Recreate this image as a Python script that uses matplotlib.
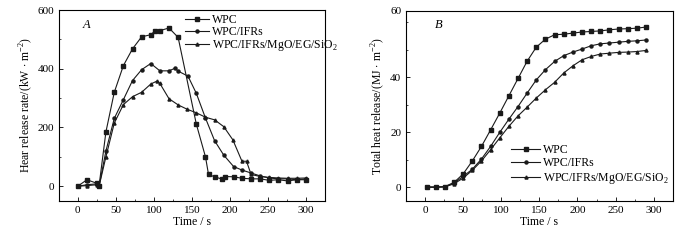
import numpy as np
import matplotlib
matplotlib.use('Agg')
import matplotlib.pyplot as plt
from matplotlib.ticker import MultipleLocator

plt.rcParams['font.family'] = ['Liberation Serif', 'DejaVu Serif']
plt.rcParams['mathtext.fontset'] = 'custom'
plt.rcParams['mathtext.rm'] = 'Liberation Serif'

# ---------------------------------------------------------------------------
# Data
# ---------------------------------------------------------------------------
labels = ['WPC', 'WPC/IFRs', r'WPC/IFRs/MgO/EG/SiO$_2$']
markers = ['s', 'o', '^']

# A: heat release rate, kW/m2
hrr_t_wpc = [0, 12, 25, 28, 37, 48, 60, 72, 84, 96, 102, 108, 120, 132, 156, 168,
             172, 180, 190, 194, 205, 216, 228, 240, 252, 264, 276, 288, 300]
hrr_wpc = [0, 22, 10, 2, 185, 320, 411, 468, 509, 516, 530, 530, 539, 507, 211, 100,
           40, 32, 24, 33, 32, 27, 25, 25, 20, 22, 18, 22, 22]

hrr_t_ifr = [0, 12, 25, 28, 37, 48, 60, 72, 84, 96, 108, 120, 128, 132, 145, 156,
             168, 180, 192, 205, 216, 228, 240, 252, 264, 276, 288, 300]
hrr_ifr = [0, 5, 8, 0, 120, 231, 295, 360, 397, 418, 393, 393, 402, 392, 375, 316,
           232, 155, 106, 67, 55, 45, 35, 28, 25, 25, 22, 25]

hrr_t_mix = [0, 12, 25, 28, 37, 48, 60, 72, 84, 96, 104, 108, 120, 132, 144, 156,
             168, 180, 192, 204, 216, 222, 228, 240, 252, 264, 276, 288, 300]
hrr_mix = [0, 2, 5, 0, 100, 215, 278, 305, 320, 348, 358, 350, 298, 277, 262, 250,
           235, 226, 203, 158, 85, 85, 40, 33, 30, 28, 27, 27, 28]

# B: total heat release, MJ/m2
thr_t = [2, 14, 26, 38, 50, 62, 74, 86, 98, 110, 122, 134, 146, 158, 170, 182,
         194, 206, 218, 230, 242, 254, 266, 278, 290]
thr_wpc = [0, 0, 0.2, 1.7, 4.8, 9.5, 14.8, 20.8, 26.9, 33.2, 39.5, 45.8, 50.9,
           53.8, 55.4, 55.6, 56.0, 56.4, 56.6, 56.8, 57.2, 57.5, 57.6, 57.8, 58.2]
thr_ifr = [0, 0, 0.1, 1.5, 3.9, 6.5, 10.2, 14.8, 19.9, 24.7, 29.3, 34.2, 39.0,
           42.7, 45.7, 47.8, 49.1, 50.2, 51.4, 52.1, 52.4, 52.7, 53.0, 53.2, 53.5]
thr_mix = [0, 0, 0.1, 1.2, 3.3, 6.1, 9.5, 13.6, 17.9, 22.1, 25.9, 29.1, 32.4,
           35.4, 38.1, 41.5, 44.1, 46.3, 47.5, 48.4, 48.7, 49.0, 49.1, 49.3, 49.7]

# ---------------------------------------------------------------------------
fig = plt.figure(figsize=(7.0, 2.4), dpi=100)
axA = fig.add_axes([0.084, 0.163, 0.380, 0.795])
axB = fig.add_axes([0.580, 0.163, 0.381, 0.793])

LC = '#1a1a1a'
kw = dict(color=LC, lw=0.8, ms=2.2, mfc=LC, mec=LC)

for t, y, m, lab in zip([hrr_t_wpc, hrr_t_ifr, hrr_t_mix],
                        [hrr_wpc, hrr_ifr, hrr_mix], markers, labels):
    axA.plot(t, y, marker=m, label=lab, **kw)

for y, m, lab in zip([thr_wpc, thr_ifr, thr_mix], markers, labels):
    axB.plot(thr_t, y, marker=m, label=lab, **kw)

for ax in (axA, axB):
    ax.set_xlim(-25, 325)
    ax.xaxis.set_major_locator(MultipleLocator(50))
    ax.xaxis.set_minor_locator(MultipleLocator(25))
    ax.tick_params(which='both', direction='in', labelsize=8, top=False, right=False)
    ax.tick_params(which='major', length=3, width=0.6)
    ax.tick_params(which='minor', length=1.6, width=0.5)
    ax.set_xlabel('Time / s', fontsize=8.5, labelpad=1)
    for s in ax.spines.values():
        s.set_linewidth(0.8)

axA.set_ylim(-50, 600)
axA.yaxis.set_major_locator(MultipleLocator(200))
axA.yaxis.set_minor_locator(MultipleLocator(100))
axA.set_ylabel(r'Hear release rate/(kW $\cdot$ m$^{-2}$)', fontsize=8.5, labelpad=2)
axA.text(0.09, 0.905, 'A', transform=axA.transAxes, fontsize=9, style='italic')
axA.legend(loc='upper left', bbox_to_anchor=(0.44, 1.03), frameon=False, fontsize=8.5,
           handlelength=2.0, handletextpad=0.3, labelspacing=0.02, borderpad=0.3)

axB.set_ylim(-5, 64.2)
axB.set_yticks([0, 20, 40, 64.2], ['0', '20', '40', '60'])
axB.yaxis.set_minor_locator(MultipleLocator(10))
axB.set_ylabel(r'Total heat release/(MJ $\cdot$ m$^{-2}$)', fontsize=8.5, labelpad=2)
axB.text(0.11, 0.91, 'B', transform=axB.transAxes, fontsize=9, style='italic')
axB.legend(loc='lower left', bbox_to_anchor=(0.36, 0.03), frameon=False, fontsize=8.5,
           handlelength=2.4, handletextpad=0.3, labelspacing=0.12, borderpad=0.3)

fig.savefig('out.png', dpi=100, facecolor='white')
